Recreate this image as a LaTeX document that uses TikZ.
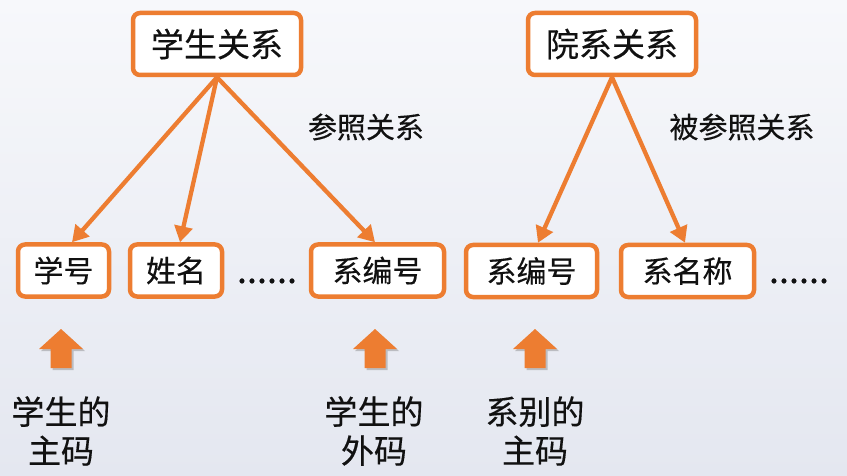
\documentclass[tikz,border=0pt]{standalone}
\usepackage{fontspec}
\setmainfont{Noto Sans CJK SC}[FakeBold=0.35]
\usetikzlibrary{arrows.meta,calc,shadows}
\definecolor{og}{HTML}{ED7D31}
\definecolor{txt}{HTML}{111111}
\definecolor{bgtop}{HTML}{F7F8FB}
\definecolor{bgbot}{HTML}{E4E7F0}
\begin{document}
\begin{tikzpicture}[x=1pt,y=-1pt,
  box/.style={draw=og,line width=4.5pt,rounded corners=7pt,fill=white,inner sep=0pt,
    text=txt,font=\fontsize{30}{30}\selectfont,minimum height=52pt},
  title/.style={box,minimum width=168pt,minimum height=62pt,font=\fontsize{33}{33}\selectfont},
  link/.style={draw=og,line width=4.3pt,-{Triangle[length=16pt,width=18pt]}},
  note/.style={text=txt,font=\fontsize{29}{29}\selectfont,inner sep=0pt},
  caption/.style={text=txt,align=center,font=\fontsize{33}{39}\selectfont,inner sep=0pt},
  dots/.style={text=txt,font=\fontsize{36}{36}\selectfont,inner sep=0pt,anchor=base},
  up/.style={fill=og,drop shadow={shadow xshift=2pt,shadow yshift=-2pt,opacity=0.35,fill=black!60}}
]
\fill[top color=bgtop,bottom color=bgbot] (0,0) rectangle (847,476);
\useasboundingbox (0,0) rectangle (847,476);

% top boxes
\node[title] (ss) at (217,44) {学生关系};
\node[title] (ys) at (612,44) {院系关系};

% attribute boxes
\node[box,minimum width=91pt] (xh) at (63.5,270.5) {学号};
\node[box,minimum width=92pt] (xm) at (176,270.5) {姓名};
\node[box,minimum width=133pt] (xb1) at (377.5,270.5) {系编号};
\node[box,minimum width=131pt] (xb2) at (531.5,271) {系编号};
\node[box,minimum width=133pt] (xmc) at (687.5,271) {系名称};

\node[dots] (d1) at (267,283) {......};
\node[dots] (d2) at (799,283) {......};

% notes
\node[note] (n1) at (366,127) {参照关系};
\node[note] (n2) at (742,127) {被参照关系};

% connectors
\draw[link] (ss.south) -- ($(xh.north)+(8.5,0)$);
\draw[link] (ss.south) -- ($(xm.north)+(4,0)$);
\draw[link] (ss.south) -- ($(xb1.north)+(-2.5,0)$);
\draw[link] (ys.south) -- ($(xb2.north)+(6.5,0)$);
\draw[link] (ys.south) -- ($(xmc.north)+(-2.5,0)$);

% block arrows
\foreach \cx in {61,375,535}{
  \path[up] (\cx,329) -- (\cx+22,349) -- (\cx+10.5,349) -- (\cx+10.5,368)
    -- (\cx-10.5,368) -- (\cx-10.5,349) -- (\cx-22,349) -- cycle;
}

% captions
\node[caption] (c1) at (61,431) {学生的\\主码};
\node[caption] (c2) at (374,431) {学生的\\外码};
\node[caption] (c3) at (535,431) {系别的\\主码};
\end{tikzpicture}
\end{document}
